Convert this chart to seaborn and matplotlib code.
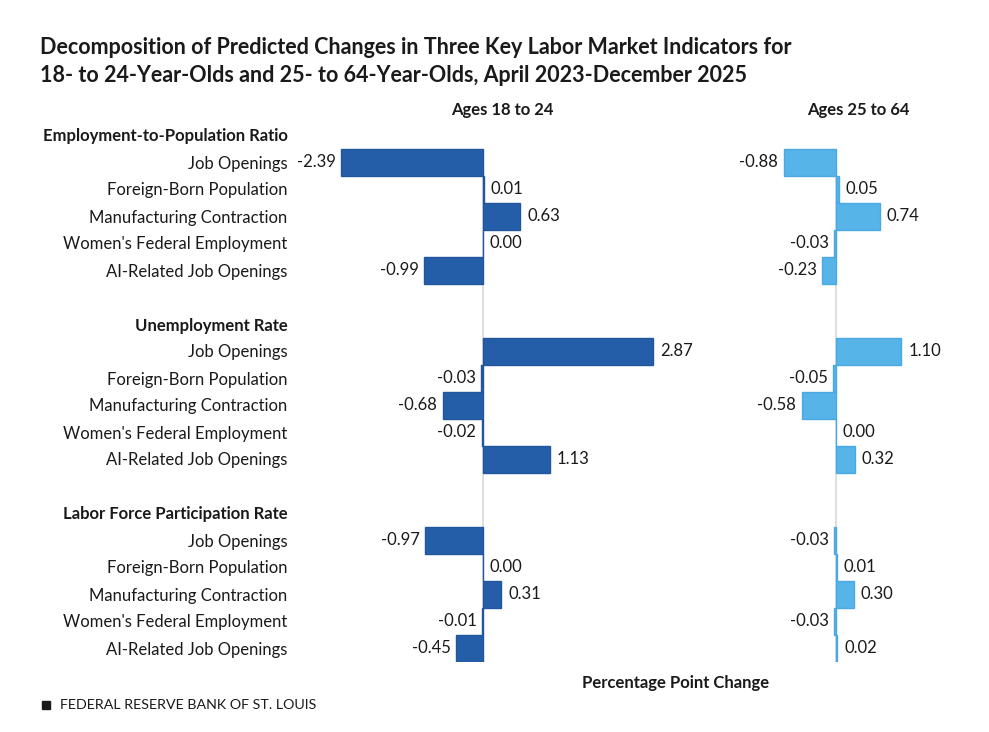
import matplotlib
matplotlib.use("Agg")
import matplotlib.pyplot as plt
import seaborn as sns
import pandas as pd
from matplotlib.patches import Rectangle

sns.set_style("white")
plt.rcParams['font.family'] = ['Lato', 'DejaVu Sans']

# ---- data ----
groups = ["Employment-to-Population Ratio", "Unemployment Rate", "Labor Force Participation Rate"]
factors = ["Job Openings", "Foreign-Born Population", "Manufacturing Contraction",
           "Women's Federal Employment", "AI-Related Job Openings"]
ages_18_24 = [
    [-2.39, 0.01, 0.63, 0.00, -0.99],
    [2.87, -0.03, -0.68, -0.02, 1.13],
    [-0.97, 0.00, 0.31, -0.01, -0.45],
]
ages_25_64 = [
    [-0.88, 0.05, 0.74, -0.03, -0.23],
    [1.10, -0.05, -0.58, 0.00, 0.32],
    [-0.03, 0.01, 0.30, -0.03, 0.02],
]
panel_titles = ["Ages 18 to 24", "Ages 25 to 64"]

# ---- build row layout: header, 5 factors, blank ----
order, labels, is_header = [], [], []
rows = []
for gi, g in enumerate(groups):
    order.append(f"h{gi}"); labels.append(g); is_header.append(True)
    for fi, f in enumerate(factors):
        key = f"r{gi}_{fi}"
        order.append(key); labels.append(f); is_header.append(False)
        rows.append({"key": key, "y1824": ages_18_24[gi][fi], "y2564": ages_25_64[gi][fi]})
    if gi < len(groups) - 1:
        order.append(f"b{gi}"); labels.append(""); is_header.append(False)
df = pd.DataFrame(rows)
n = len(order)

W, H = 989, 732
fig = plt.figure(figsize=(W / 100, H / 100), dpi=100)

def ax_rect(x0, x1, ytop, ybot):
    return [x0 / W, 1 - ybot / H, (x1 - x0) / W, (ybot - ytop) / H]

px_per_unit = 59.4
y_top_px = 135 - 13.5
y_bot_px = 648 + 13.5

axL = fig.add_axes(ax_rect(300, 700, y_top_px, y_bot_px))
axR = fig.add_axes(ax_rect(700, 965, y_top_px, y_bot_px))

specs = [
    (axL, "y1824", 483, 300, 700, "#255EA8", "#22569C"),
    (axR, "y2564", 836, 700, 965, "#56B4E9", "#4AA9E2"),
]

txt = "#1a1a1a"
for ax, col, zero_px, x0, x1, color, edge in specs:
    sns.barplot(data=df, x=col, y="key", order=order, orient="h", color=color,
                edgecolor=edge, linewidth=1.0, width=1.0, ax=ax, saturation=1)
    ax.set_xlim(-(zero_px - x0) / px_per_unit, (x1 - zero_px) / px_per_unit)
    ax.set_ylim(n - 0.5, -0.5)
    ax.vlines(0, 0.5, n - 0.5, color="#D9D9D9", lw=1.2, zorder=0)
    for s in ax.spines.values():
        s.set_visible(False)
    ax.set_xticks([])
    ax.set_xlabel("")
    ax.set_ylabel("")
    ax.tick_params(axis="y", length=0)
    for i, k in enumerate(order):
        sub = df[df["key"] == k]
        if sub.empty:
            continue
        v = float(sub[col].iloc[0])
        if v < 0:
            ax.annotate(f"{v:.2f}", (v, i), xytext=(-4, 0), textcoords="offset points",
                        ha="right", va="center", fontsize=12, color=txt)
        else:
            ax.annotate(f"{v:.2f}", (v, i), xytext=(5, 0), textcoords="offset points",
                        ha="left", va="center", fontsize=12, color=txt)

axL.set_yticks(range(n))
axL.set_yticklabels(labels, fontsize=12, color=txt)
for t, h in zip(axL.get_yticklabels(), is_header):
    if h:
        t.set_fontweight("bold")
axL.tick_params(axis="y", pad=9)
axR.set_yticks([])

# titles
fig.text(40 / W, 1 - 48 / H, "Decomposition of Predicted Changes in Three Key Labor Market Indicators for",
         fontsize=15.5, fontweight="bold", va="center", ha="left", color=txt)
fig.text(40 / W, 1 - 76 / H, "18- to 24-Year-Olds and 25- to 64-Year-Olds, April 2023-December 2025",
         fontsize=15.5, fontweight="bold", va="center", ha="left", color=txt)
fig.text(502 / W, 1 - 110 / H, panel_titles[0], fontsize=12, fontweight="bold",
         ha="center", va="center", color=txt)
fig.text(858 / W, 1 - 110 / H, panel_titles[1], fontsize=12, fontweight="bold",
         ha="center", va="center", color=txt)
fig.text(676 / W, 1 - 683 / H, "Percentage Point Change", fontsize=12, fontweight="bold",
         ha="center", va="center", color=txt)

# footer
fig.patches.append(Rectangle((42 / W, 1 - 709 / H), 8 / W, 8 / H, transform=fig.transFigure,
                             color=txt))
fig.text(60 / W, 1 - 705 / H, "FEDERAL RESERVE BANK OF ST. LOUIS",
         fontsize=10.3, ha="left", va="center", color=txt)

fig.savefig("out.png", dpi=100)
